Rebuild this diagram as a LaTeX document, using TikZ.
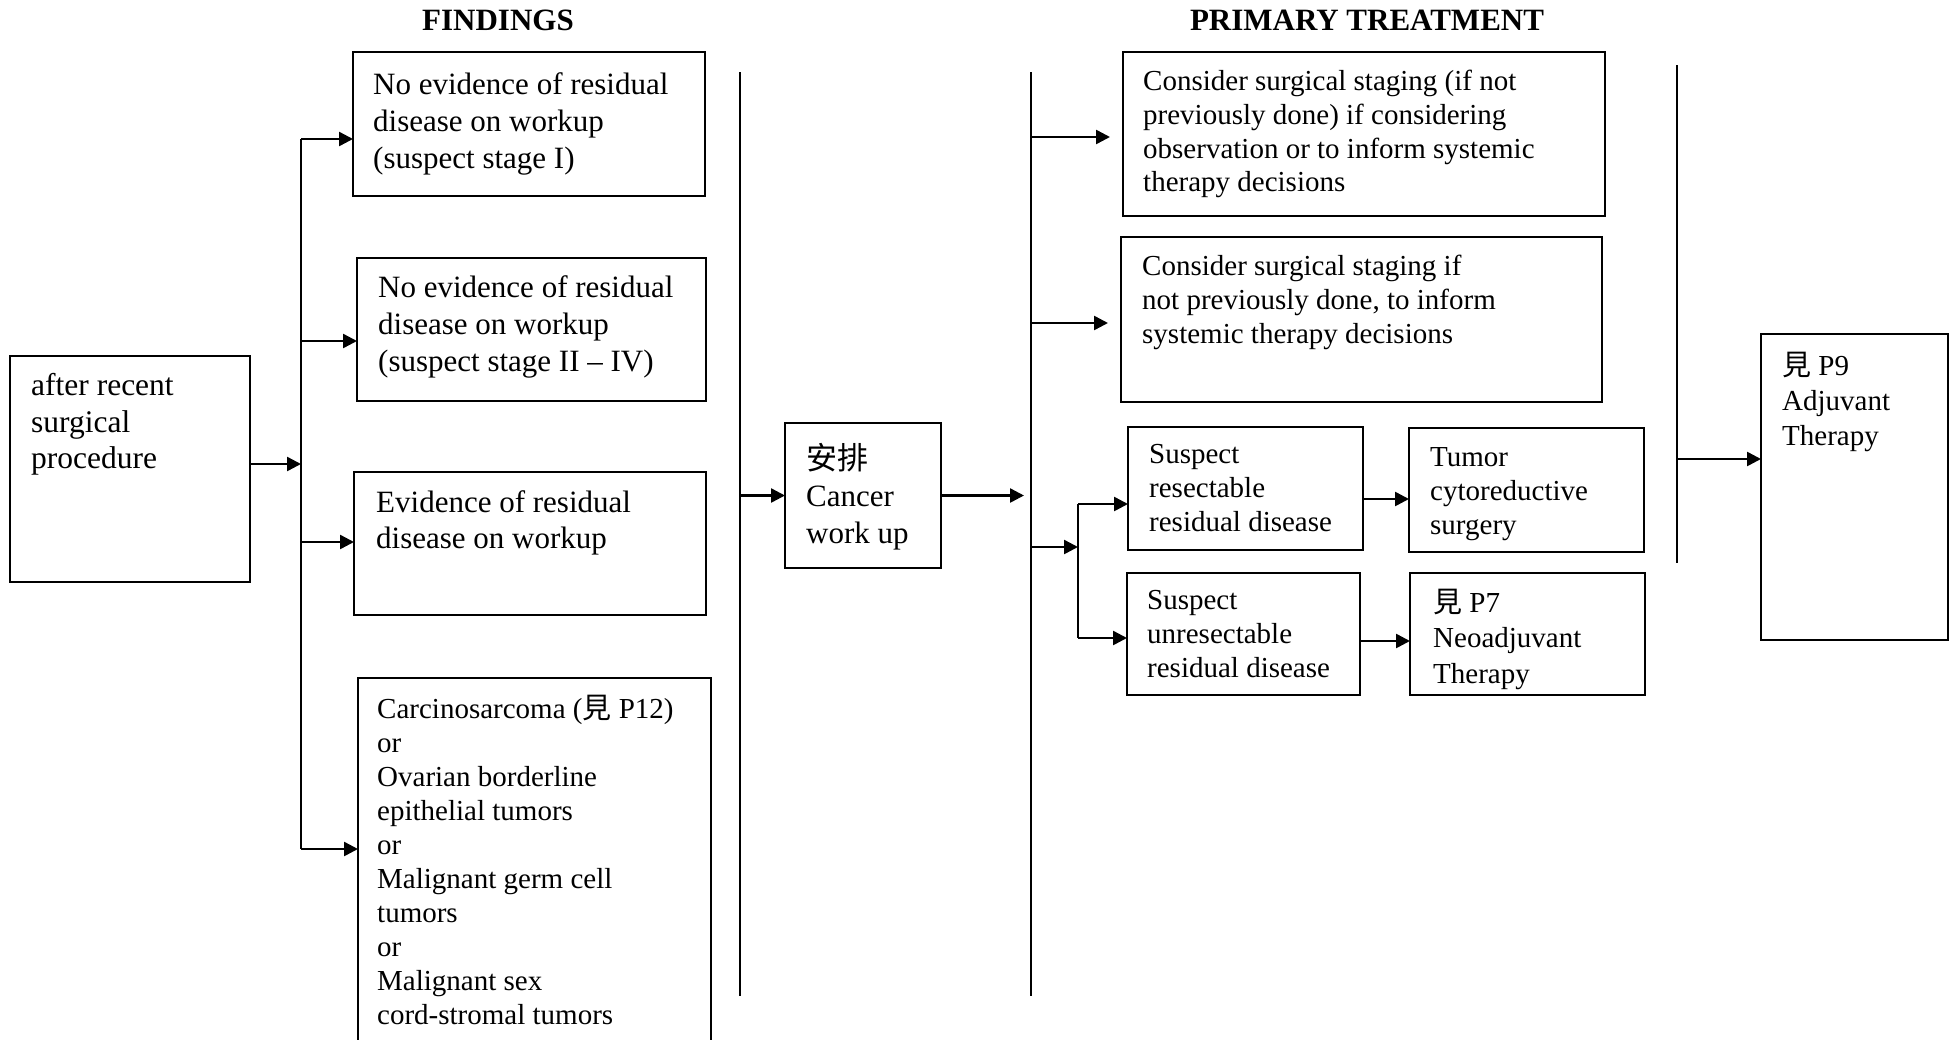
\documentclass[tikz,border=0pt]{standalone}
\usepackage{fontspec}
\setmainfont{Liberation Serif}
\newfontfamily\cjk{Noto Sans CJK TC}
\usetikzlibrary{arrows.meta}
\begin{document}
\begin{tikzpicture}[x=1pt,y=-1pt,
  box/.style={draw, line width=2pt, inner sep=0pt, outer sep=0pt, anchor=north west},
  bigtxt/.style={anchor=north west, inner sep=0pt, align=left, font=\fontsize{31}{37}\selectfont},
  smalltxt/.style={anchor=north west, inner sep=0pt, align=left, font=\fontsize{29}{34}\selectfont},
  arr/.style={line width=2.5pt, -{Triangle[length=14pt,width=14pt]}},
  sepline/.style={line width=1.6pt},
  busline/.style={line width=2pt},
  title/.style={font=\fontsize{31}{37}\selectfont\bfseries, inner sep=0pt}]
\useasboundingbox (0,0) rectangle (1957,1039);
\fill[white] (0,0) rectangle (1957,1039);

% titles
\node[title] (h1) at (498,20) {FINDINGS};
\node[title] (h2) at (1367,20) {PRIMARY TREATMENT};

% boxes
\node[box, minimum width=240pt, minimum height=226pt] (a) at (10,356) {};
\node[box, minimum width=352pt, minimum height=144pt] (f1) at (353,52) {};
\node[box, minimum width=349pt, minimum height=143pt] (f2) at (357,258) {};
\node[box, minimum width=352pt, minimum height=143pt] (f3) at (354,472) {};
\node[box, minimum width=353pt, minimum height=380pt] (f4) at (358,678) {};
\node[box, minimum width=156pt, minimum height=145pt] (c) at (785,423) {};
\node[box, minimum width=482pt, minimum height=164pt] (t1) at (1123,52) {};
\node[box, minimum width=481pt, minimum height=165pt] (t2) at (1121,237) {};
\node[box, minimum width=235pt, minimum height=123pt] (t3) at (1128,427) {};
\node[box, minimum width=233pt, minimum height=122pt] (t4) at (1127,573) {};
\node[box, minimum width=235pt, minimum height=124pt] (t5) at (1409,428) {};
\node[box, minimum width=235pt, minimum height=122pt] (t6) at (1410,573) {};
\node[box, minimum width=187pt, minimum height=306pt] (p9) at (1761,334) {};

% texts
\node[bigtxt, font=\fontsize{31.5}{36.5}\selectfont] (at) at (31,370) {\strut after recent\\surgical\\procedure};
\node[bigtxt] (f1t) at (373,68) {\strut No evidence of residual\\disease on workup\\(suspect stage I)};
\node[bigtxt] (f2t) at (378,271) {\strut No evidence of residual\\disease on workup\\(suspect stage II – IV)};
\node[bigtxt, font=\fontsize{31}{36}\selectfont] (f3t) at (376,487) {\strut Evidence of residual\\disease on workup};
\node[smalltxt] (f4t) at (377,694) {\strut Carcinosarcoma ({\cjk 見} P12)\\or\\Ovarian borderline\\epithelial tumors\\or\\Malignant germ cell\\tumors\\or\\Malignant sex\\cord-stromal tumors};
\node[bigtxt] (ct) at (806,443) {\strut{\cjk 安排}\\Cancer\\work up};
\node[smalltxt, font=\fontsize{29}{33.7}\selectfont] (t1t) at (1143,67) {\strut Consider surgical staging (if not\\previously done) if considering\\observation or to inform systemic\\therapy decisions};
\node[smalltxt, font=\fontsize{29}{33.7}\selectfont] (t2t) at (1142,252) {\strut Consider surgical staging if\\not previously done, to inform\\systemic therapy decisions};
\node[smalltxt, font=\fontsize{29}{33.7}\selectfont] (t3t) at (1149,440) {\strut Suspect\\resectable\\residual disease};
\node[smalltxt, font=\fontsize{29}{33.7}\selectfont] (t4t) at (1147,586) {\strut Suspect\\unresectable\\residual disease};
\node[smalltxt, font=\fontsize{29}{34.3}\selectfont] (t5t) at (1430,442) {\strut Tumor\\cytoreductive\\surgery};
\node[smalltxt, font=\fontsize{29}{35.6}\selectfont] (t6t) at (1433,587) {\strut{\cjk 見} P7\\Neoadjuvant\\Therapy};
\node[smalltxt, font=\fontsize{29}{35}\selectfont] (p9t) at (1782,351) {\strut{\cjk 見} P9\\Adjuvant\\Therapy};

% findings bus
\coordinate (busA) at (301,464);
\coordinate (busT) at (301,139);
\coordinate (bus2) at (301,341);
\coordinate (bus3) at (301,542);
\coordinate (busB) at (301,849);
\draw[arr] (a.east |- busA) -- (busA);
\draw[busline] (busT) -- (busB);
\draw[arr] (busT) -- (f1.west |- busT);
\draw[arr] (bus2) -- (f2.west |- bus2);
\draw[arr] (bus3) -- (f3.west |- bus3);
\draw[arr] (busB) -- (f4.west |- busB);

% separator 1
\coordinate (s1t) at (740,72);
\coordinate (s1b) at (740,996);
\draw[sepline] (s1t) -- (s1b);
\coordinate (s1c) at (741,495.5);
\draw[arr] (s1c) -- (c.west);

% separator 2
\coordinate (s2t) at (1031,72);
\coordinate (s2b) at (1031,996);
\draw[sepline] (s2t) -- (s2b);
\coordinate (cend) at (1024,495.5);
\draw[arr] (c.east) -- (cend);
\coordinate (s2a) at (1032,137);
\coordinate (s2c) at (1032,323);
\draw[arr, shorten >=13pt] (s2a) -- (t1.west |- s2a);
\draw[arr, shorten >=13pt] (s2c) -- (t2.west |- s2c);
\coordinate (s2d) at (1032,547);
\coordinate (br) at (1078,547);
\draw[arr] (s2d) -- (br);
\coordinate (brT) at (1078,504);
\coordinate (brB) at (1078,638);
\draw[busline] (brT) -- (brB);
\draw[arr] (brT) -- (t3.west |- brT);
\draw[arr] (brB) -- (t4.west |- brB);
\coordinate (y35) at (0,499);
\coordinate (y46) at (0,641);
\draw[arr] (t3.east |- y35) -- (t5.west |- y35);
\draw[arr] (t4.east |- y46) -- (t6.west |- y46);

% separator 3
\coordinate (s3t) at (1677,65);
\coordinate (s3b) at (1677,563);
\draw[sepline] (s3t) -- (s3b);
\coordinate (s3c) at (1678,459);
\draw[arr] (s3c) -- (p9.west |- s3c);
\end{tikzpicture}
\end{document}
